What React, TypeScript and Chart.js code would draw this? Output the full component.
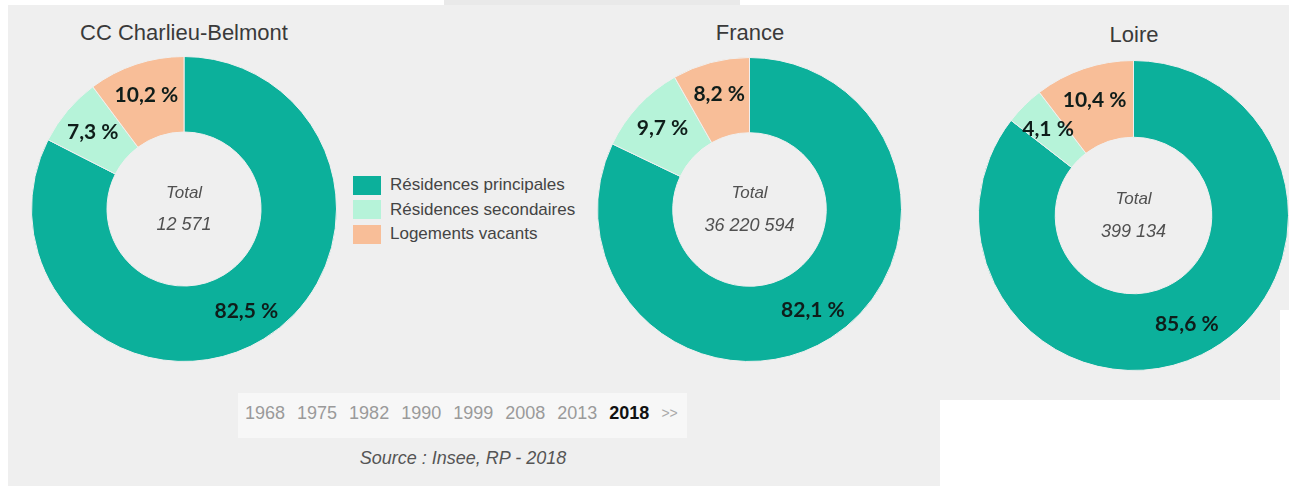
import React, { useEffect, useRef } from "react";
import { Chart, registerables } from "chart.js";

Chart.register(...registerables);

// ---- data ----
const categories = ["Résidences principales", "Résidences secondaires", "Logements vacants"];
const sliceColors = ["#0cb09b", "#b6f3d9", "#f8be98"];
const titles = ["CC Charlieu-Belmont", "France", "Loire"];
const charlieuValues = [82.5, 7.3, 10.2];
const franceValues = [82.1, 9.7, 8.2];
const loireValues = [85.6, 4.1, 10.4];
const totals = ["12 571", "36 220 594", "399 134"];
const totalLabel = "Total";
const years = ["1968", "1975", "1982", "1990", "1999", "2008", "2013", "2018"];
const selectedYear = "2018";
const sourceText = "Source : Insee, RP - 2018";

const BG = "#efefef";

const formatPct = (v: number) => v.toFixed(1).replace(".", ",") + " %";

const labelPlugin = {
  id: "sliceLabels",
  afterDatasetsDraw(chart: any) {
    const ctx = chart.ctx;
    const meta = chart.getDatasetMeta(0);
    const ds = chart.data.datasets[0];
    ctx.save();
    ctx.textAlign = "center";
    ctx.textBaseline = "middle";
    ctx.font = "bold 21px Lato";
    ctx.fillStyle = "#0f1d1a";
    let cx = 0;
    let cy = 0;
    meta.data.forEach((arc: any, i: number) => {
      const p = arc.getProps(["x", "y", "startAngle", "endAngle", "innerRadius", "outerRadius"], true);
      cx = p.x;
      cy = p.y;
      const mid = (p.startAngle + p.endAngle) / 2;
      const r = ((p.innerRadius + p.outerRadius) / 2) * 1.04;
      ctx.fillText(formatPct(ds.data[i]), p.x + Math.cos(mid) * r, p.y + Math.sin(mid) * r);
    });
    const total = chart.options.plugins.sliceLabels.total;
    ctx.fillStyle = "#505050";
    ctx.font = "italic 17px 'Liberation Sans'";
    ctx.fillText(totalLabel, cx, cy - 16);
    ctx.font = "italic 18px 'Liberation Sans'";
    ctx.fillText(total, cx, cy + 16);
    ctx.restore();
  },
};

function Donut(props: { values: number[]; total: string; left: number; top: number; size: number }) {
  const ref = useRef<HTMLCanvasElement>(null);
  useEffect(() => {
    if (!ref.current) return;
    const chart = new Chart(ref.current, {
      type: "doughnut",
      data: {
        labels: categories,
        datasets: [
          {
            data: props.values,
            backgroundColor: sliceColors,
            borderColor: BG,
            borderWidth: 1,
            hoverOffset: 0,
          },
        ],
      },
      options: {
        responsive: false,
        devicePixelRatio: 1,
        animation: false,
        events: [],
        cutout: "50.5%",
        layout: { padding: 0 },
        plugins: {
          legend: { display: false },
          tooltip: { enabled: false },
          title: { display: false },
          sliceLabels: { total: props.total },
        } as any,
      },
      plugins: [labelPlugin],
    });
    return () => chart.destroy();
  }, []);
  return (
    <canvas
      ref={ref}
      width={props.size}
      height={props.size}
      style={{ position: "absolute", left: props.left, top: props.top, width: props.size, height: props.size }}
    />
  );
}

const abs = (s: React.CSSProperties): React.CSSProperties => ({ position: "absolute", ...s });

export default function App() {
  const titleStyle = (cx: number): React.CSSProperties =>
    abs({
      left: cx - 200,
      width: 400,
      top: 20,
      textAlign: "center",
      font: "22px 'Liberation Sans', Arial, sans-serif",
      color: "#3a3a3a",
      lineHeight: "26px",
    });
  return (
    <div style={{ position: "fixed", left: 0, top: 0, width: 1289, height: 486, background: "#ffffff", overflow: "hidden" }}>
      {/* panel backgrounds */}
      <div style={abs({ left: 444, top: 0, width: 296, height: 5, background: "#e9e9e9" })} />
      <div style={abs({ left: 8, top: 5, width: 932, height: 481, background: BG })} />
      <div style={abs({ left: 940, top: 5, width: 349, height: 305, background: BG })} />
      <div style={abs({ left: 940, top: 310, width: 340, height: 90, background: BG })} />

      {/* titles */}
      <div style={titleStyle(184)}>{titles[0]}</div>
      <div style={titleStyle(750)}>{titles[1]}</div>
      <div style={abs({ ...titleStyle(1134), top: 22 })}>{titles[2]}</div>

      {/* donuts */}
      <Donut values={charlieuValues} total={totals[0]} left={31} top={56} size={306} />
      <Donut values={franceValues} total={totals[1]} left={597} top={57} size={305} />
      <Donut values={loireValues} total={totals[2]} left={978} top={60} size={311} />

      {/* legend */}
      {categories.map((c, i) => (
        <div key={c} style={abs({ left: 353, top: 175 + i * 24.5, height: 20, display: "flex", alignItems: "center" })}>
          <div style={{ width: 28, height: 19, background: sliceColors[i], marginRight: 9 }} />
          <span style={{ font: "17px 'Liberation Sans', Arial, sans-serif", color: "#444", whiteSpace: "nowrap" }}>{c}</span>
        </div>
      ))}

      {/* year selector */}
      <div style={abs({ left: 238, top: 393, width: 449, height: 45, background: "#f7f7f7" })} />
      <div
        style={abs({
          left: 245,
          top: 403,
          height: 20,
          display: "flex",
          alignItems: "center",
          gap: 12,
          font: "18px 'Liberation Sans', Arial, sans-serif",
          color: "#9a9a9a",
          whiteSpace: "nowrap",
        })}
      >
        {years.map((y) => (
          <span key={y} style={y === selectedYear ? { color: "#111", fontWeight: "bold" } : undefined}>
            {y}
          </span>
        ))}
        <span style={{ fontSize: 14, color: "#aaa" }}>&gt;&gt;</span>
      </div>

      {/* source */}
      <div
        style={abs({
          left: 263,
          width: 400,
          top: 447,
          textAlign: "center",
          font: "italic 18px 'Liberation Sans', Arial, sans-serif",
          color: "#555",
          lineHeight: "22px",
        })}
      >
        {sourceText}
      </div>
    </div>
  );
}
